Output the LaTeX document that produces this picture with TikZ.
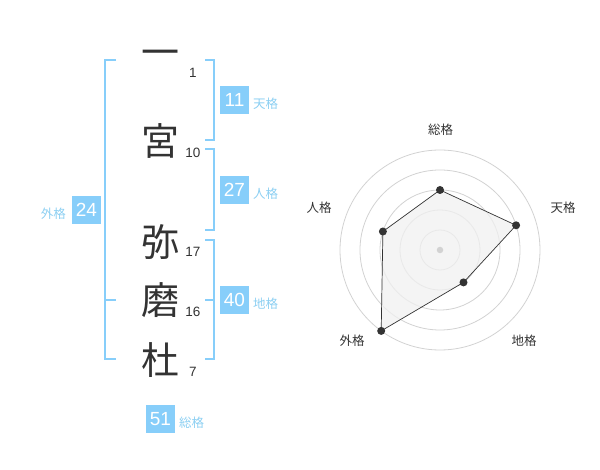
\documentclass[tikz,border=0pt]{standalone}
\usepackage{fontspec}
\setmainfont{Liberation Sans}
\newfontfamily\cjk{Noto Sans CJK JP}
\definecolor{bl}{HTML}{87CEFA}
\definecolor{bltext}{HTML}{8CCFF2}
\definecolor{ink}{HTML}{333333}
\definecolor{ring}{HTML}{D2D2D2}
\definecolor{polyfill}{HTML}{F0F0F0}
\tikzset{
  kanji/.style={inner sep=0pt, text=ink, font=\cjk\fontsize{38}{38}\selectfont},
  strokes/.style={inner sep=0pt, text=ink, font=\fontsize{13.5}{14}\selectfont},
  brk/.style={draw=bl, line width=2pt},
  numbox/.style={fill=bl, text=white, minimum width=29pt, minimum height=28pt, inner sep=0pt, font=\fontsize{19}{19}\selectfont},
  lbl/.style={inner sep=0pt, text=bltext, font=\cjk\fontsize{12.5}{13}\selectfont},
  ringc/.style={draw=ring, line width=0.8pt},
  axlbl/.style={inner sep=0pt, text=ink, font=\cjk\fontsize{12.5}{13}\selectfont},
  dot/.style={circle, fill=ink, inner sep=0pt, minimum size=8pt},
}
\begin{document}
\begin{tikzpicture}[x=1pt, y=-1pt]
\useasboundingbox (0,0) rectangle (600,470);
% characters
\node[kanji] (c1) at (160,58) {一};
\node[kanji] (c2) at (160,141) {宮};
\node[kanji] (c3) at (160,242) {弥};
\node[kanji] (c4) at (160,300) {磨};
\node[kanji] (c5) at (160,360) {杜};
% stroke counts
\node[strokes] (n1) at (193,73) {1};
\node[strokes] (n2) at (193,153) {10};
\node[strokes] (n3) at (193,252) {17};
\node[strokes] (n4) at (193,312) {16};
\node[strokes] (n5) at (193,372) {7};
% brackets
\draw[brk] (116,60) -- (105,60) -- (105,359) -- (116,359);
\draw[brk] (105,300) -- (116,300);
\draw[brk] (205,60) -- (214,60) -- (214,140) -- (205,140);
\draw[brk] (205,149) -- (214,149) -- (214,230) -- (205,230);
\draw[brk] (205,240) -- (214,240) -- (214,359) -- (205,359);
\draw[brk] (214,300) -- (205,300);
% value boxes
\node[numbox] (ten) at (234.5,100) {11};
\node[lbl, anchor=west] (tenl) at (253,104) {天格};
\node[numbox] (jin) at (234.5,190) {27};
\node[lbl, anchor=west] (jinl) at (253,194) {人格};
\node[numbox] (chi) at (234.5,300) {40};
\node[lbl, anchor=west] (chil) at (253,304) {地格};
\node[numbox] (gai) at (86.5,210) {24};
\node[lbl, anchor=east] (gail) at (66,214) {外格};
\node[numbox] (sou) at (160.5,419) {51};
\node[lbl, anchor=west] (soul) at (179,423) {総格};
% radar
\coordinate (ctr) at (440,250);
\foreach \r in {20,40,60,80,100} \draw[ringc] (ctr) circle[radius=\r];
\coordinate (ps) at (440,190);
\coordinate (pt) at (516.1,225.3);
\coordinate (pc) at (463.5,282.4);
\coordinate (pg) at (381.2,330.9);
\coordinate (pj) at (382.9,231.5);
\fill[polyfill, fill opacity=0.75] (ps) -- (pt) -- (pc) -- (pg) -- (pj) -- cycle;
\draw[ink, line width=0.7pt] (ps) -- (pt) -- (pc) -- (pg) -- (pj) -- cycle;
\node[circle, fill=ring, inner sep=0pt, minimum size=6.5pt] (cdot) at (ctr) {};
\node[dot] (ds) at (ps) {};
\node[dot] (dt) at (pt) {};
\node[dot] (dc) at (pc) {};
\node[dot] (dg) at (pg) {};
\node[dot] (dj) at (pj) {};
\node[axlbl] (as) at (440.5,130) {総格};
\node[axlbl] (at) at (563,208) {天格};
\node[axlbl] (aj) at (319,208) {人格};
\node[axlbl] (ac) at (524,341) {地格};
\node[axlbl] (ag) at (352,341) {外格};
\end{tikzpicture}
\end{document}
